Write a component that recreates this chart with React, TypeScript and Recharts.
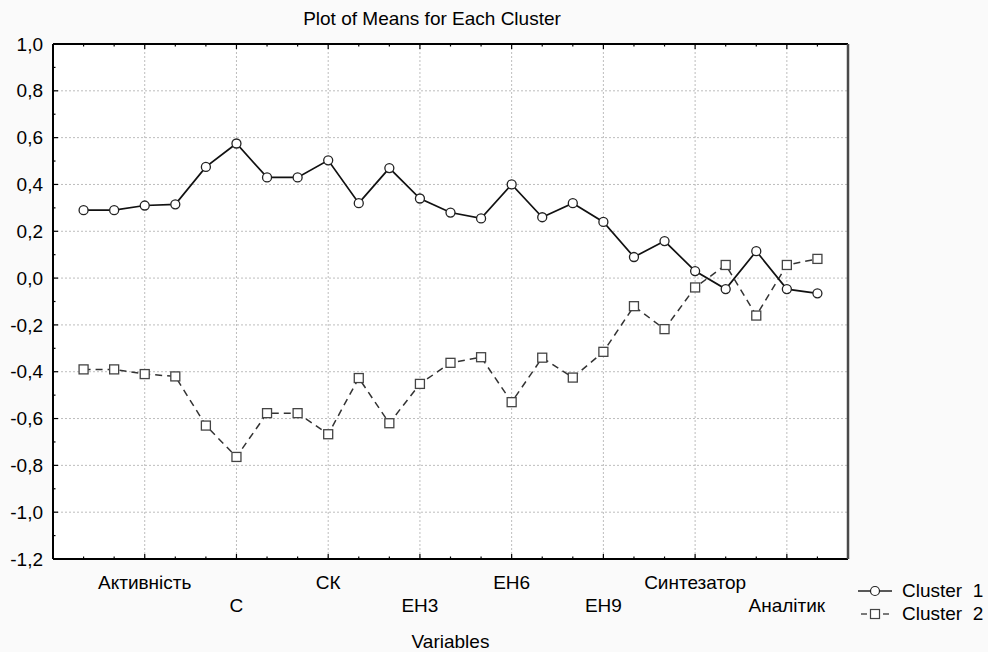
import React from "react";
import { LineChart, Line, XAxis, YAxis, CartesianGrid } from "recharts";

// variable positions along the x axis (1..25), only every third one is named
const varIndex = [1, 2, 3, 4, 5, 6, 7, 8, 9, 10, 11, 12, 13, 14, 15, 16, 17, 18, 19, 20, 21, 22, 23, 24, 25];
const namedAt = [3, 6, 9, 12, 15, 18, 21, 24];
const namedVars = ["Активність", "С", "СК", "ЕН3", "ЕН6", "ЕН9", "Синтезатор", "Аналітик"];

const cluster1 = [
  0.29, 0.29, 0.31, 0.315, 0.475, 0.575, 0.43, 0.43, 0.503, 0.32, 0.47, 0.34, 0.28,
  0.255, 0.4, 0.26, 0.32, 0.24, 0.09, 0.158, 0.03, -0.047, 0.115, -0.047, -0.065,
];
const cluster2 = [
  -0.39, -0.39, -0.41, -0.42, -0.63, -0.764, -0.577, -0.577, -0.667, -0.427, -0.62, -0.452,
  -0.362, -0.338, -0.53, -0.34, -0.425, -0.315, -0.12, -0.218, -0.04, 0.056, -0.16, 0.056, 0.082,
];

const yTicks = [-1.2, -1.1, -1.0, -0.9, -0.8, -0.7, -0.6, -0.5, -0.4, -0.3, -0.2, -0.1, 0, 0.1, 0.2, 0.3, 0.4, 0.5, 0.6, 0.7, 0.8, 0.9, 1.0];
const yGridTicks = [-1.2, -1.0, -0.8, -0.6, -0.4, -0.2, 0, 0.2, 0.4, 0.6, 0.8, 1.0];

const data = varIndex.map((idx, i) => ({ idx, c1: cluster1[i], c2: cluster2[i] }));

const FONT = "'Liberation Sans', Arial, sans-serif";
const FS = 19;

const isMajorY = (v: number) => Math.round(v * 10) % 2 === 0;
const fmt = (v: number) => v.toFixed(1).replace(".", ",");

const BottomTick = (props: any) => {
  const { x, y, payload } = props;
  const v = payload.value;
  const k = namedAt.indexOf(v);
  const major = v % 3 === 0;
  return (
    <g>
      <line x1={x} x2={x} y1={y} y2={y - (major ? 5 : 2.5)} stroke="#000" strokeWidth={1.2} />
      {k >= 0 && (
        <text x={x} y={y + (k % 2 === 0 ? 23 : 46)} textAnchor="middle" dy="0.35em" fontFamily={FONT} fontSize={FS} fill="#000">
          {namedVars[k]}
        </text>
      )}
    </g>
  );
};

const TopTick = (props: any) => {
  const { x, y, payload } = props;
  const major = payload.value % 3 === 0;
  return <line x1={x} x2={x} y1={y} y2={y + (major ? 5 : 2.5)} stroke="#000" strokeWidth={1.2} />;
};

const LeftTick = (props: any) => {
  const { x, y, payload } = props;
  const v = payload.value;
  const major = isMajorY(v);
  return (
    <g>
      <line x1={x} x2={x + (major ? 5 : 2.5)} y1={y} y2={y} stroke="#000" strokeWidth={1.2} />
      {major && (
        <text x={x - 10} y={y} textAnchor="end" dy="0.35em" fontFamily={FONT} fontSize={FS} fill="#000">
          {fmt(v)}
        </text>
      )}
    </g>
  );
};

const RightTick = (props: any) => {
  const { x, y, payload } = props;
  const major = isMajorY(payload.value);
  return <line x1={x} x2={x - (major ? 5 : 2.5)} y1={y} y2={y} stroke="#000" strokeWidth={1.2} />;
};

const SquareDot = (props: any) => {
  const { cx, cy, index } = props;
  if (cx == null || cy == null) return <g key={index} />;
  return <rect key={index} x={cx - 4.5} y={cy - 4.5} width={9} height={9} fill="#fff" stroke="#444" strokeWidth={1.3} />;
};

export default function App() {
  return (
    <div style={{ position: "absolute", left: 0, top: 0, width: 988, height: 652, background: "#fafafa", fontFamily: FONT }}>
      <div style={{ position: "absolute", left: 232, width: 400, top: 7, textAlign: "center", fontSize: FS, lineHeight: "24px", color: "#000", whiteSpace: "nowrap" }}>
        Plot of Means for Each Cluster
      </div>
      <LineChart width={988} height={652} data={data} margin={{ top: 43, right: 139, bottom: 0, left: 0 }}>
        <CartesianGrid
          xAxisId="b"
          yAxisId="l"
          verticalValues={namedAt}
          horizontalValues={yGridTicks}
          fill="#fff"
          stroke="#bdbdbd"
          strokeDasharray="2 2"
          strokeWidth={1}
        />
        <XAxis
          xAxisId="b"
          type="number"
          dataKey="idx"
          domain={[0, 26]}
          ticks={varIndex}
          interval={0}
          height={93}
          tickSize={0}
          tickMargin={0}
          tickLine={false}
          tick={BottomTick}
          axisLine={{ stroke: "#000", strokeWidth: 2 }}
          label={{ value: "Variables", position: "insideBottom", offset: 0, dy: -4, fontFamily: FONT, fontSize: FS, fill: "#000" }}
        />
        <XAxis
          xAxisId="t"
          orientation="top"
          type="number"
          dataKey="idx"
          domain={[0, 26]}
          ticks={varIndex}
          interval={0}
          height={1}
          tickSize={0}
          tickMargin={0}
          tickLine={false}
          tick={TopTick}
          axisLine={{ stroke: "#000", strokeWidth: 2 }}
        />
        <YAxis
          yAxisId="l"
          type="number"
          domain={[-1.2, 1.0]}
          ticks={yTicks}
          interval={0}
          width={53}
          tickSize={0}
          tickMargin={0}
          tickLine={false}
          tick={LeftTick}
          axisLine={{ stroke: "#000", strokeWidth: 2 }}
        />
        <YAxis
          yAxisId="r"
          orientation="right"
          type="number"
          domain={[-1.2, 1.0]}
          ticks={yTicks}
          interval={0}
          width={1}
          tickSize={0}
          tickMargin={0}
          tickLine={false}
          tick={RightTick}
          axisLine={{ stroke: "#4a4a4a", strokeWidth: 2.5 }}
        />
        <Line
          xAxisId="b"
          yAxisId="l"
          dataKey="c2"
          stroke="#333"
          strokeWidth={1.5}
          strokeDasharray="7 5"
          dot={SquareDot}
          isAnimationActive={false}
        />
        <Line
          xAxisId="b"
          yAxisId="l"
          dataKey="c1"
          stroke="#111"
          strokeWidth={1.7}
          dot={{ r: 4.5, fill: "#fff", stroke: "#222", strokeWidth: 1.3 }}
          isAnimationActive={false}
        />
      </LineChart>
      <div style={{ position: "absolute", left: 856, top: 579, fontSize: FS, lineHeight: "23px", color: "#000" }}>
        {[0, 1].map((k) => (
          <div key={k} style={{ display: "flex", alignItems: "center", whiteSpace: "pre" }}>
            <svg width={40} height={14} style={{ marginRight: 6 }}>
              {k === 0 ? (
                <g>
                  <line x1={2} x2={36} y1={7} y2={7} stroke="#222" strokeWidth={1.3} />
                  <circle cx={19} cy={7} r={4.5} fill="#fff" stroke="#222" strokeWidth={1.2} />
                </g>
              ) : (
                <g>
                  <line x1={5} x2={11} y1={7} y2={7} stroke="#333" strokeWidth={1.3} />
                  <line x1={27} x2={33} y1={7} y2={7} stroke="#333" strokeWidth={1.3} />
                  <rect x={14.5} y={2.5} width={9} height={9} fill="#fff" stroke="#444" strokeWidth={1.2} />
                </g>
              )}
            </svg>
            <span>{k === 0 ? "Cluster  1" : "Cluster  2"}</span>
          </div>
        ))}
      </div>
    </div>
  );
}
